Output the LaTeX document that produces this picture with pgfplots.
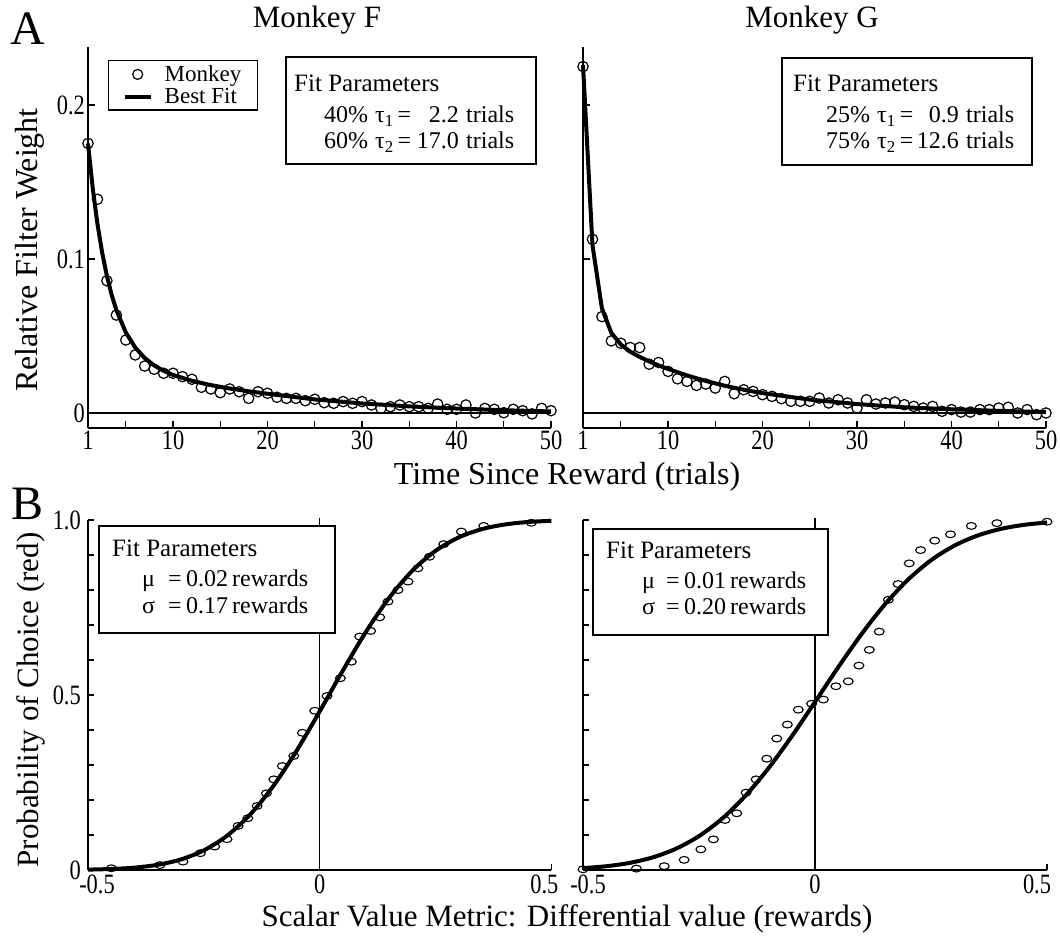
\documentclass[border=0pt]{standalone}
\usepackage{fontspec}
\setmainfont{Liberation Serif}
\newfontfamily\tickfont{Liberation Serif}[FakeStretch=0.8]
\usepackage{pgfplots}
\pgfplotsset{compat=1.18}
\newcommand{\fs}[1]{\fontsize{#1}{#1}\selectfont}
\pgfplotsset{
  panel/.style={
    scale only axis,
    anchor=south west,
    axis x line=bottom, axis y line=left,
    axis line style={-, line width=1.4pt},
    tick align=inside,
    major tick length=7pt,
    tick style={line width=1.2pt, black},
    ticklabel style={font=\tickfont\fs{28}},
    xticklabel style={inner sep=2.5pt},
    yticklabel style={inner sep=3pt},
    /pgf/number format/assume math mode=true,
    clip=false,
  },
  dots/.style={only marks, mark=o, mark size=5.2pt, mark options={line width=1.2pt, black},
    legend image code/.code={\draw[line width=1.2pt] (13pt,0pt) circle (5pt);}},
  fit/.style={line width=4pt, black,
    legend image code/.code={\draw[line width=4pt] (0pt,0pt) -- (26pt,0pt);}},
  edots/.style={only marks, mark=o, mark size=3.4pt, mark options={xscale=1.45, line width=1.1pt, black}},
}
\begin{document}
\begin{tikzpicture}[x=1pt,y=1pt]
\path[use as bounding box] (0,0) rectangle (1060,939);

% ---------------- Top left: Monkey F ----------------
\begin{axis}[panel, at={(88pt,511pt)}, width=463pt, height=381pt,
  xmin=1, xmax=50, ymin=-0.00974, ymax=0.2377,
  xtick={1,5,10,15,20,25,30,35,40,45,50}, xticklabels={1,,10,,20,,30,,40,,50},
  ytick={0,0.1,0.2}, yticklabels={0,0.1,0.2},
  legend style={at={(0.0432,0.9659)}, anchor=north west, draw=black, line width=1.4pt,
    font=\fs{23}, inner xsep=14pt, inner ysep=4pt, row sep=3pt,
    nodes={inner ysep=1pt},
    /tikz/every odd column/.append style={column sep=10pt}},
  legend cell align=left]
\draw[line width=1.1pt] (axis cs:1,0) -- (axis cs:50,0);
\addplot[dots] coordinates {
(1,0.1751)(2,0.1388)(3,0.0859)(4,0.0636)(5,0.0474)(6,0.0377)(7,0.0305)(8,0.0284)
(9,0.0258)(10,0.0258)(11,0.0236)(12,0.0219)(13,0.0167)(14,0.0156)(15,0.0132)(16,0.0156)
(17,0.0138)(18,0.0095)(19,0.0138)(20,0.0128)(21,0.0102)(22,0.0095)(23,0.0095)(24,0.0080)
(25,0.0089)(26,0.0067)(27,0.0063)(28,0.0074)(29,0.0063)(30,0.0074)(31,0.0052)(32,0.0030)
(33,0.0041)(34,0.0052)(35,0.0041)(36,0.0041)(37,0.0030)(38,0.0058)(39,0.0024)(40,0.0024)
(41,0.0052)(42,0.0000)(43,0.0030)(44,0.0024)(45,0.0002)(46,0.0024)(47,0.0015)(48,-0.0006)
(49,0.0030)(50,0.0015)};
\addlegendentry{Monkey}
\addplot[fit] coordinates {
(1,0.175)(1.5,0.146)(2,0.1228)(2.5,0.1041)(3,0.0890)(3.5,0.0768)(4,0.0669)(5,0.0523)
(6,0.0425)(7,0.0357)(8,0.0309)(9,0.0274)(10,0.0247)(12,0.0209)(14,0.0181)(16,0.0159)
(18,0.0141)(20,0.0125)(25,0.0088)(30,0.0062)(35,0.0043)(40,0.0029)(45,0.0018)(50,0.0010)};
\addlegendentry{Best Fit}
\end{axis}

% ---------------- Top right: Monkey G ----------------
\begin{axis}[panel, at={(583pt,511pt)}, width=463pt, height=381pt,
  xmin=1, xmax=50, ymin=-0.00974, ymax=0.2377,
  xtick={1,5,10,15,20,25,30,35,40,45,50}, xticklabels={1,,10,,20,,30,,40,,50},
  ytick={0,0.1,0.2}, yticklabels={}]
\draw[line width=1.1pt] (axis cs:1,0) -- (axis cs:50,0);
\addplot[dots] coordinates {
(1,0.2250)(2,0.1128)(3,0.0626)(4,0.0468)(5,0.0453)(6,0.0425)(7,0.0425)(8,0.0317)
(9,0.0328)(10,0.0270)(11,0.0222)(12,0.0205)(13,0.0179)(14,0.0188)(15,0.0162)(16,0.0205)
(17,0.0125)(18,0.0151)(19,0.0140)(20,0.0119)(21,0.0108)(22,0.0093)(23,0.0076)(24,0.0076)
(25,0.0076)(26,0.0097)(27,0.0065)(28,0.0086)(29,0.0065)(30,0.0032)(31,0.0086)(32,0.0058)
(33,0.0065)(34,0.0071)(35,0.0054)(36,0.0043)(37,0.0032)(38,0.0043)(39,0.0011)(40,0.0022)
(41,0.0006)(42,0.0006)(43,0.0022)(44,0.0022)(45,0.0032)(46,0.0037)(47,0.0000)(48,0.0022)
(49,-0.0011)(50,0.0000)};
\addplot[fit] coordinates {
(1,0.2260)(2,0.1091)(3,0.0680)(4,0.0520)(5,0.0445)(6,0.0398)(7,0.0364)(8,0.0335)
(9,0.0309)(10,0.0286)(12,0.0244)(14,0.0208)(16,0.0177)(18,0.0151)(20,0.0129)(25,0.0087)
(30,0.0058)(35,0.0037)(40,0.0024)(45,0.0014)(50,0.0006)};
\end{axis}

% ---------------- Bottom left ----------------
\begin{axis}[panel, at={(88pt,69pt)}, width=463.4pt, height=350pt,
  xmin=-0.5, xmax=0.5, ymin=0, ymax=1,
  xtick={-0.5,0,0.5}, xticklabels={\hspace*{18pt}-0.5,0,\hspace*{-14pt}0.5},
  xticklabel style={inner sep=5pt},
  yticklabel style={inner sep=7pt},
  ytick={0,0.1,0.2,0.3,0.4,0.5,0.6,0.7,0.8,0.9,1}, yticklabels={0,,,,,0.5,,,,,1.0},
  major tick length=6pt]
\draw[line width=1.1pt] (axis cs:0,0) -- (axis cs:0,1.005);
\addplot[edots] coordinates {
(-0.4495,0.005)(-0.345,0.014)(-0.295,0.024)(-0.2575,0.048)(-0.2266,0.067)(-0.200,0.088)
(-0.176,0.126)(-0.155,0.148)(-0.135,0.183)(-0.115,0.219)(-0.099,0.259)(-0.0806,0.297)
(-0.056,0.326)(-0.0374,0.392)(-0.0108,0.455)(0.0158,0.497)(0.0446,0.548)(0.0683,0.595)
(0.0863,0.667)(0.110,0.683)(0.1295,0.722)(0.1475,0.767)(0.169,0.800)(0.1906,0.824)
(0.212,0.862)(0.237,0.895)(0.2676,0.931)(0.3057,0.967)(0.354,0.983)(0.4568,0.992)};
\addplot[fit, smooth] coordinates {
(-0.5,0.0011)(-0.45,0.0029)(-0.4,0.0067)(-0.35,0.0148)(-0.3,0.0299)(-0.25,0.0561)
(-0.2,0.0978)(-0.15,0.1587)(-0.1,0.2401)(-0.05,0.3403)(0,0.4532)(0.05,0.5700)
(0.1,0.6810)(0.15,0.7778)(0.2,0.8552)(0.25,0.9120)(0.3,0.9502)(0.35,0.9739)
(0.4,0.9873)(0.45,0.9943)(0.5,0.9976)};
\end{axis}

% ---------------- Bottom right ----------------
\begin{axis}[panel, at={(583pt,69pt)}, width=464pt, height=350pt,
  xmin=-0.5, xmax=0.5, ymin=0, ymax=1,
  xtick={-0.5,0,0.5}, xticklabels={\hspace*{10pt}-0.5,0,\hspace*{-20pt}0.5},
  xticklabel style={inner sep=5pt},
  ytick={0,0.1,0.2,0.3,0.4,0.5,0.6,0.7,0.8,0.9,1}, yticklabels={},
  major tick length=6pt]
\draw[line width=1.1pt] (axis cs:0,0) -- (axis cs:0,1.005);
\addplot[edots] coordinates {
(-0.5,0.002)(-0.385,0.004)(-0.325,0.011)(-0.282,0.029)(-0.246,0.059)(-0.219,0.0875)
(-0.194,0.143)(-0.1686,0.162)(-0.1485,0.221)(-0.127,0.259)(-0.104,0.318)(-0.0825,0.3755)
(-0.0596,0.4155)(-0.036,0.458)(-0.0072,0.475)(0.018,0.487)(0.045,0.525)(0.0717,0.539)
(0.0947,0.584)(0.117,0.629)(0.1384,0.681)(0.158,0.772)(0.179,0.817)(0.203,0.876)
(0.2275,0.914)(0.258,0.941)(0.292,0.959)(0.337,0.983)(0.392,0.991)(0.5,0.995)};
\addplot[fit, smooth] coordinates {
(-0.5,0.0054)(-0.45,0.0107)(-0.4,0.0202)(-0.35,0.0359)(-0.3,0.0606)(-0.25,0.0968)
(-0.2,0.1469)(-0.15,0.2119)(-0.1,0.2912)(-0.05,0.3821)(0,0.4801)(0.05,0.5793)
(0.1,0.6736)(0.15,0.7580)(0.2,0.8289)(0.25,0.8849)(0.3,0.9265)(0.35,0.9554)
(0.4,0.9744)(0.45,0.9861)(0.5,0.9929)};
\end{axis}

% ---------------- Fit parameter boxes ----------------
\begin{scope}[every node/.style={inner sep=0pt, font=\fs{24}}]
\draw[line width=1.4pt, fill=white] (286,882) rectangle (536,775);
\node[anchor=base west, font=\fs{25}] at (294,847) {Fit Parameters};
\node[anchor=base west] at (324,816) {40\%};
\node[anchor=base west] at (375,816) {τ\textsubscript{1}\,=};
\node[anchor=base east] at (459,816) {2.2};
\node[anchor=base west] at (466,816) {trials};
\node[anchor=base west] at (324,790) {60\%};
\node[anchor=base west] at (375,790) {τ\textsubscript{2}\,=};
\node[anchor=base east] at (459,790) {17.0};
\node[anchor=base west] at (466,790) {trials};

\draw[line width=1.4pt, fill=white] (782,881) rectangle (1032,774);
\node[anchor=base west, font=\fs{25}] at (793,847) {Fit Parameters};
\node[anchor=base west] at (826,816) {25\%};
\node[anchor=base west] at (877,816) {τ\textsubscript{1}\,=};
\node[anchor=base east] at (959,816) {0.9};
\node[anchor=base west] at (966,816) {trials};
\node[anchor=base west] at (826,790) {75\%};
\node[anchor=base west] at (877,790) {τ\textsubscript{2}\,=};
\node[anchor=base east] at (959,790) {12.6};
\node[anchor=base west] at (966,790) {trials};

\draw[line width=1.4pt, fill=white] (99,413) rectangle (335,306);
\node[anchor=base west, font=\fs{25}] at (112,382) {Fit Parameters};
\node[anchor=base west] at (142,352) {μ};
\node[anchor=base west] at (168,352) {=};
\node[anchor=base west] at (186,352) {0.02};
\node[anchor=base west] at (232,352) {rewards};
\node[anchor=base west] at (142,325) {σ};
\node[anchor=base west] at (168,325) {=};
\node[anchor=base west] at (186,325) {0.17};
\node[anchor=base west] at (232,325) {rewards};

\draw[line width=1.4pt, fill=white] (593,410) rectangle (828,304);
\node[anchor=base west, font=\fs{25}] at (606,380) {Fit Parameters};
\node[anchor=base west] at (642,350) {μ};
\node[anchor=base west] at (666,350) {=};
\node[anchor=base west] at (684,350) {0.01};
\node[anchor=base west] at (730,350) {rewards};
\node[anchor=base west] at (642,324) {σ};
\node[anchor=base west] at (666,324) {=};
\node[anchor=base west] at (684,324) {0.20};
\node[anchor=base west] at (730,324) {rewards};
\end{scope}

% ---------------- Titles, labels, panel letters ----------------
\node[anchor=base, font=\fs{31}] at (317,911) {Monkey F};
\node[anchor=base, font=\fs{31}] at (812,911) {Monkey G};
\node[anchor=base west, font=\fs{48}] at (7,894) {A};
\node[anchor=base west, font=\fs{48}] at (8,419) {B};
\node[anchor=base, font=\fs{32}] at (567,454) {Time Since Reward (trials)};
\node[anchor=base, font=\fs{31}] at (567,12) {Scalar Value Metric: Differential value (rewards)};
\node[font=\fs{32}, rotate=90] at (30,689) {Relative Filter Weight};
\node[font=\fs{31}, rotate=90] at (31,239) {Probability of Choice (red)};
\end{tikzpicture}
\end{document}
